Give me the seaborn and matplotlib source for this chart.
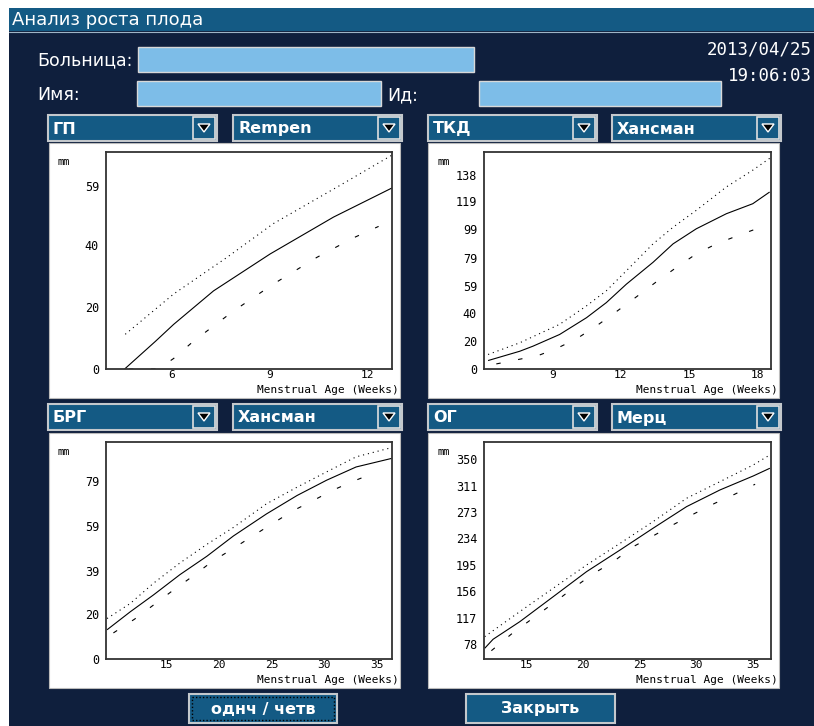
import matplotlib
matplotlib.use("Agg")
import matplotlib.pyplot as plt
import seaborn as sns
from matplotlib.patches import Rectangle, Polygon

# ГП / Rempen
gp_med_x = [4.57, 5.51, 6.07, 7.29, 9.02, 10.96, 12.75]
gp_med_y = [0, 8.9, 14.4, 25.2, 37.1, 49.0, 58.4]
gp_up_x = [4.59, 6.07, 7.7, 9.12, 11.17, 12.75]
gp_up_y = [11.2, 24.2, 36.0, 46.9, 59.3, 69.0]
gp_lo_x = [4.7, 5.6, 6.07, 6.68, 7.9, 9.12, 10.45, 11.57, 12.34]
gp_lo_y = [0, 0, 3.4, 9.0, 18.7, 27.4, 36.0, 42.3, 46.0]

# ТКД / Хансман
tkd_med_x = [6.18, 7.57, 8.15, 9.32, 10.5, 11.37, 12.25, 13.42, 14.3, 15.32, 16.64, 17.8, 18.54]
tkd_med_y = [6.0, 12.6, 16.2, 24.5, 36.4, 47.1, 60.2, 75.7, 88.8, 99.5, 110.2, 117.3, 125.6]
tkd_up_x = [6.18, 7.57, 9.32, 10.5, 11.37, 12.25, 13.42, 14.3, 15.32, 16.64, 17.8, 18.54]
tkd_up_y = [10.3, 18.6, 31.7, 44.8, 55.5, 69.7, 88.8, 100.6, 112.6, 129.2, 141.1, 149.5]
tkd_lo_x = [6.54, 7.49, 8.37, 9.18, 10.06, 10.93, 11.81, 12.69, 13.57, 14.45, 15.32, 16.2, 17.15, 18.03]
tkd_lo_y = [3.6, 6.7, 9.5, 14.5, 21.4, 30.5, 40.7, 51.2, 61.9, 72.1, 81.7, 88.8, 94.7, 99.9]

# БРГ / Хансман
brg_med_x = [9.4, 11.6, 13.8, 16.3, 18.86, 21.37, 24.5, 27.4, 30.2, 33.0, 36.36]
brg_med_y = [13.0, 21.0, 28.5, 37.5, 45.7, 54.7, 64.5, 72.7, 79.5, 85.4, 89.2]
brg_up_x = [9.4, 11.6, 13.8, 16.3, 18.86, 21.37, 24.5, 27.4, 30.2, 33.0, 36.36]
brg_up_y = [18.0, 24.7, 33.7, 42.7, 51.0, 58.5, 69.0, 76.4, 83.2, 89.9, 94.0]
brg_lo_x = [10.0, 12.0, 13.8, 15.5, 17.4, 19.4, 21.3, 23.2, 25.1, 27.05, 28.94, 30.9, 32.7, 34.7]
brg_lo_y = [11.6, 17.7, 24.0, 30.0, 36.4, 43.5, 49.0, 54.7, 60.3, 66.0, 70.5, 75.3, 79.0, 82.7]

# ОГ / Мерц
og_med_x = [11.36, 12.1, 14.45, 17.4, 20.34, 23.3, 26.2, 29.16, 32.1, 35.04, 36.5]
og_med_y = [72.1, 85.4, 111.2, 148.0, 184.8, 216.7, 248.6, 280.4, 304.9, 325.5, 336.8]
og_up_x = [11.36, 14.45, 17.4, 20.34, 23.3, 26.2, 29.16, 32.1, 35.04, 36.5]
og_up_y = [89.2, 126.0, 160.4, 194.6, 226.5, 258.3, 292.7, 317.1, 341.7, 356.4]
og_lo_x = [11.95, 13.8, 15.6, 17.4, 19.15, 20.9, 22.7, 24.45, 26.2, 28.1, 29.9, 31.66, 33.4, 35.2]
og_lo_y = [68.6, 94.2, 116.2, 138.3, 160.4, 181.4, 199.5, 221.5, 237.3, 254.9, 270.6, 285.4, 298.6, 313.3]

gp_xticks = [6, 9, 12]
gp_yticks = [0, 20, 40, 59]
tkd_xticks = [9, 12, 15, 18]
tkd_yticks = [0, 20, 40, 59, 79, 99, 119, 138]
brg_xticks = [15, 20, 25, 30, 35]
brg_yticks = [0, 20, 39, 59, 79]
og_xticks = [15, 20, 25, 30, 35]
og_yticks = [78, 117, 156, 195, 234, 273, 311, 350]

sns.set_style("white")
plt.rcParams['font.family'] = ['DejaVu Sans']

NAVY = '#0f1f3d'
BAR = '#145a84'
FIELD = '#7dbde8'
W, H = 814, 726

fig = plt.figure(figsize=(W / 100, H / 100), dpi=100)
fig.patch.set_facecolor('white')
bg = fig.add_axes([0, 0, 1, 1])
bg.set_xlim(0, W)
bg.set_ylim(H, 0)
bg.axis('off')


def box(x0, y0, x1, y1, fc, ec='none', lw=0, ls='-', z=1):
    bg.add_patch(Rectangle((x0, y0), x1 - x0, y1 - y0, facecolor=fc, edgecolor=ec,
                           linewidth=lw, linestyle=ls, zorder=z))


# fond et barre de titre
box(9, 8, W, H, NAVY)
box(9, 8, W, 31, BAR)
bg.plot([9, W], [31.5, 31.5], color='#9fb4c6', lw=0.8, zorder=2)
bg.text(12, 20, 'Анализ роста плода', color='white', fontsize=13, va='center', zorder=3)

# champs du patient
bg.text(37, 60, 'Больница:', color='white', fontsize=12.5, va='center')
box(138, 47, 474, 72, FIELD, '#d8d8d8', 1)
bg.text(37, 95, 'Имя:', color='white', fontsize=12.5, va='center')
box(137, 81, 381, 106, FIELD, '#d8d8d8', 1)
bg.text(387, 95, 'Ид:', color='white', fontsize=12.5, va='center')
box(479, 81, 721, 106, FIELD, '#d8d8d8', 1)
bg.text(812, 50, '2013/04/25', color='white', fontsize=12.5, ha='right', va='center',
        family='DejaVu Sans Mono')
bg.text(812, 76, '19:06:03', color='white', fontsize=12.5, ha='right', va='center',
        family='DejaVu Sans Mono')


def dropdown(x0, x1, y0, y1, label):
    box(x0, y0, x1, y1, BAR, '#c4c8cc', 1.5, z=2)
    bx0, bx1 = x1 - 24, x1 - 2
    box(bx0, y0 + 2, bx1, y1 - 2, BAR, '#e0e0e0', 1.2, z=3)
    cx, cy = (bx0 + bx1) / 2, (y0 + y1) / 2
    bg.add_patch(Polygon([[cx - 6, cy - 4], [cx + 6, cy - 4], [cx, cy + 4]],
                         closed=True, facecolor='black', zorder=4))
    bg.text(x0 + 5, (y0 + y1) / 2 + 1, label, color='white', fontsize=11.5,
            fontweight='bold', va='center', zorder=4)


dropdown(48, 217, 115, 141, 'ГП')
dropdown(233, 402, 115, 141, 'Rempen')
dropdown(428, 597, 115, 141, 'ТКД')
dropdown(612, 781, 115, 141, 'Хансман')
dropdown(48, 217, 404, 430, 'БРГ')
dropdown(233, 402, 404, 430, 'Хансман')
dropdown(428, 597, 404, 430, 'ОГ')
dropdown(612, 781, 404, 430, 'Мерц')

# panneaux blancs
for px0, py0 in [(49, 143), (428, 143), (49, 433), (428, 433)]:
    box(px0, py0, px0 + 351, py0 + 255, 'white', '#bbbbbb', 0.8, z=2)

# boutons
box(189, 694, 337, 723, BAR, '#c4c8cc', 1.5, z=2)
box(192, 697, 334, 720, 'none', 'black', 1.0, ls=(0, (1, 1.5)), z=3)
bg.text(263, 709, 'однч / четв', color='white', fontsize=11.5, fontweight='bold',
        ha='center', va='center', zorder=4)
box(466, 694, 615, 723, BAR, '#c4c8cc', 1.5, z=2)
bg.text(540, 709, 'Закрыть', color='white', fontsize=11.5, fontweight='bold',
        ha='center', va='center', zorder=4)

MONO = 'DejaVu Sans Mono'


def chart(rect, xlim, ylim, xticks, yticks, curves, panel):
    x0, y0, x1, y1 = rect
    ax = fig.add_axes([x0 / W, 1 - y1 / H, (x1 - x0) / W, (y1 - y0) / H])
    ax.set_facecolor('white')
    styles = [(0, ()), (0, (1, 3.5)), (0, (4, 16))]
    for (xs, ys), st in zip(curves, styles):
        sns.lineplot(x=xs, y=ys, ax=ax, color='black', linewidth=0.8,
                     linestyle=st, estimator=None, sort=False)
    ax.set_xlim(*xlim)
    ax.set_ylim(*ylim)
    ax.set_xticks(xticks)
    ax.set_yticks(yticks)
    ax.set_xticklabels([str(t) for t in xticks], family=MONO, fontsize=8)
    ax.set_yticklabels([str(t) for t in yticks], family=MONO, fontsize=8.5)
    ax.tick_params(length=0, pad=5, colors='black')
    ax.tick_params(axis='x', pad=0.5)
    ax.set_xlabel('')
    ax.set_ylabel('')
    for s in ax.spines.values():
        s.set_color('#333333')
        s.set_linewidth(1.3)
        s.set_visible(True)
    px, py = panel
    bg.text(px + 9, py + 19, 'mm', family=MONO, fontsize=7.5, color='black',
            va='center', zorder=5)
    bg.text(px + 350, py + 247, 'Menstrual Age (Weeks)', family=MONO, fontsize=8,
            color='black', ha='right', va='center', zorder=5)
    return ax


chart((106, 152, 392, 369), (4, 12.75), (0, 70), gp_xticks, gp_yticks,
      [(gp_med_x, gp_med_y), (gp_up_x, gp_up_y), (gp_lo_x, gp_lo_y)], (49, 143))
chart((484, 152, 771, 369), (6, 18.6), (0, 154), tkd_xticks, tkd_yticks,
      [(tkd_med_x, tkd_med_y), (tkd_up_x, tkd_up_y), (tkd_lo_x, tkd_lo_y)], (428, 143))
chart((106, 442, 392, 659), (9.3, 36.4), (0, 96.5), brg_xticks, brg_yticks,
      [(brg_med_x, brg_med_y), (brg_up_x, brg_up_y), (brg_lo_x, brg_lo_y)], (49, 433))
chart((484, 442, 771, 659), (11.3, 36.6), (56.4, 375.4), og_xticks, og_yticks,
      [(og_med_x, og_med_y), (og_up_x, og_up_y), (og_lo_x, og_lo_y)], (428, 433))

fig.savefig('out.png', dpi=100, facecolor=fig.get_facecolor())
